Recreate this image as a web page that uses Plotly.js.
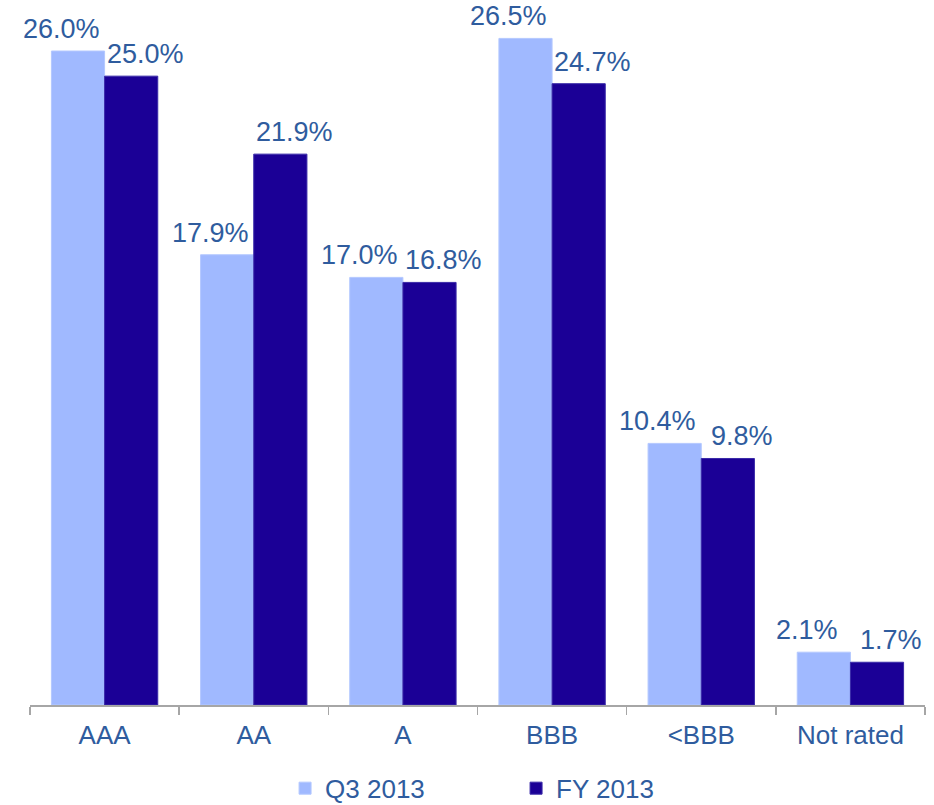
<!DOCTYPE html>
<html>
<head>
<meta charset="utf-8">
<script src="https://cdn.plot.ly/plotly-3.0.1.min.js"></script>
<style>html,body{margin:0;padding:0;background:#fff;}</style>
</head>
<body>
<div id="chart" style="width:934px;height:805px;"></div>
<script>
var categories = ["AAA", "AA", "A", "BBB", "<BBB", "Not rated"];
var q3_2013 = [26.0, 17.9, 17.0, 26.5, 10.4, 2.1];
var fy_2013 = [25.0, 21.9, 16.8, 24.7, 9.8, 1.7];
var seriesNames = ["Q3 2013", "FY 2013"];

var lightColor = "#A0B9FF";
var darkColor = "#1B0096";
var textColor = "#2F5C9E";
var fontFam = "Liberation Sans, Arial, sans-serif";

var traces = [
  {type: "bar", name: seriesNames[0], x: categories, y: q3_2013,
   marker: {color: lightColor, line: {color: "#B4C8FF", width: 1}}, hoverinfo: "none"},
  {type: "bar", name: seriesNames[1], x: categories, y: fy_2013,
   marker: {color: darkColor, line: {color: "#3A2AA8", width: 1}}, hoverinfo: "none"}
];

var half = 0.178;
var annotations = [];
categories.forEach(function (c, i) {
  annotations.push({x: i - half, y: q3_2013[i], xref: "x", yref: "y",
    text: q3_2013[i].toFixed(1) + "%", showarrow: false, xanchor: "center", yanchor: "bottom",
    xshift: -17, yshift: 5, font: {family: fontFam, size: 27, color: textColor}});
  annotations.push({x: i + half, y: fy_2013[i], xref: "x", yref: "y",
    text: fy_2013[i].toFixed(1) + "%", showarrow: false, xanchor: "center", yanchor: "bottom",
    xshift: 14, yshift: 5, font: {family: fontFam, size: 27, color: textColor}});
});

var layout = {
  width: 934, height: 805,
  margin: {l: 30, r: 9, t: 10, b: 100, autoexpand: false},
  paper_bgcolor: "#fff", plot_bgcolor: "#fff",
  barmode: "group", bargap: 0.287, bargroupgap: 0,
  font: {family: fontFam, size: 26, color: textColor},
  xaxis: {
    type: "category", range: [-0.5, 5.5], showline: true, linecolor: "#A6A6A6", linewidth: 1.5,
    ticks: "outside", tickson: "boundaries", ticklen: 8, tickcolor: "#A6A6A6", tickwidth: 1.5,
    ticklabelstandoff: 6,
    tickfont: {family: fontFam, size: 26, color: textColor}, showgrid: false, zeroline: false,
    automargin: false
  },
  yaxis: {range: [0, 27.63], visible: false, showgrid: false, zeroline: false, automargin: false},
  showlegend: true,
  legend: {orientation: "h", x: 0.285, xanchor: "left", y: -0.086, yanchor: "top",
    font: {family: fontFam, size: 26, color: textColor}, entrywidth: 186, entrywidthmode: "pixels",
    traceorder: "normal"},
  annotations: annotations
};

Plotly.newPlot("chart", traces, layout, {staticPlot: true, displayModeBar: false});
</script>
</body>
</html>
